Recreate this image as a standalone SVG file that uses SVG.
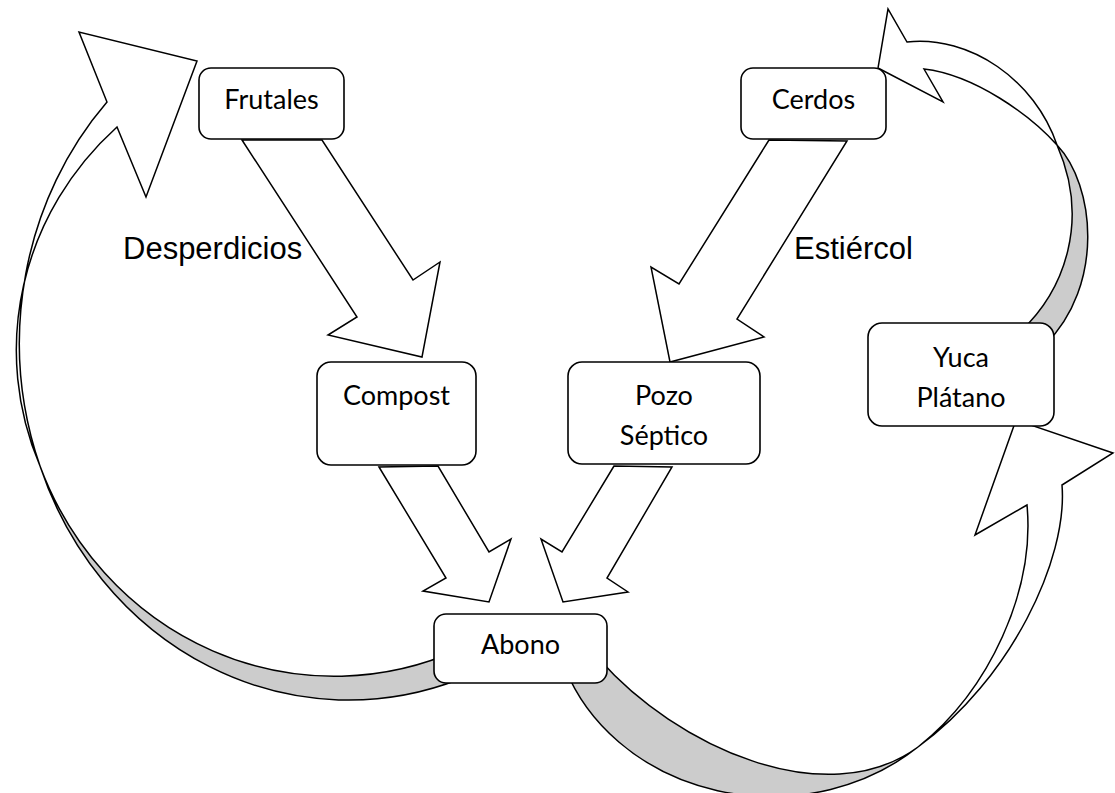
<svg xmlns="http://www.w3.org/2000/svg" width="1115" height="793" viewBox="0 0 1115 793">
<style>
.node rect { fill:#ffffff; stroke:#000000; stroke-width:1.6; }
.node text { font-family: Lato, "Open Sans", sans-serif; font-size:27px; text-anchor:middle; fill:#000000; }
.arrow { fill:#ffffff; stroke:#000000; stroke-width:1.5; stroke-linejoin:miter; }
.back { fill:#cccccc; stroke:#000000; stroke-width:1.5; }
.label { font-family:"Liberation Sans", Arial, sans-serif; font-size:31px; fill:#000000; }
</style>
<rect x="0" y="0" width="1115" height="793" fill="#ffffff"/>
<g id="connectors">
  <path class="back" d="M 40,466 A 315.5 329 0 0 0 460,649 L 460,679 A 328 354 0 0 1 40,466 Z"/>
  <path class="arrow" d="M 117,127 L 146,197 L 197,61 L 79,32 L 107,102 A 328 354 0 0 0 40,466 A 321 307 0 0 1 117,127 Z"/>
  <path class="back" d="M 600,660 C 675,745 825,815 918,747 A 219 193 0 0 1 565,668 Z"/>
  <path class="arrow" d="M 1027,505 L 975,535 L 1016,420 L 1113,453 L 1062,485 C 1068,560 1010,680 918,747 C 990,690 1035,590 1027,505 Z"/>
  <path class="back" d="M 1020,332 C 1065,290 1090,220 1057,145 C 1095,185 1105,285 1045,345 Z"/>
  <path class="arrow" d="M 924,69 L 943,102 L 878,68 L 888,9 L 907,42 C 970,35 1035,80 1057,145 C 1030,115 975,75 924,69 Z"/>
  <polygon class="arrow" points="242,140 357,317 328,335 422,357 440,262 413,280 322,140"/>
  <polygon class="arrow" points="769,140 679,284 651,267 670,362 764,337 737,319 847,141"/>
  <polygon class="arrow" points="379,467 446,578 423,591 489,602 511,539 489,552 438,466"/>
  <polygon class="arrow" points="614,466 562,552 541,539 563,602 628,592 607,578 672,467"/>
</g>
<g id="labels">
  <text class="label" x="123" y="259">Desperdicios</text>
  <text class="label" x="794" y="259">Estiércol</text>
</g>
<g id="frutales" class="node"><rect x="199" y="68" width="145" height="71" rx="12"/><text x="271.5" y="109">Frutales</text></g>
<g id="cerdos" class="node"><rect x="741" y="68" width="145" height="71" rx="12"/><text x="813.5" y="109">Cerdos</text></g>
<g id="compost" class="node"><rect x="317" y="362" width="159" height="103" rx="14"/><text x="396.5" y="405">Compost</text></g>
<g id="pozo" class="node"><rect x="568" y="362" width="192" height="102" rx="14"/><text x="664" y="405">Pozo</text><text x="664" y="445">Séptico</text></g>
<g id="yuca" class="node"><rect x="868" y="323" width="186" height="103" rx="14"/><text x="961" y="367">Yuca</text><text x="961" y="407">Plátano</text></g>
<g id="abono" class="node"><rect x="434" y="614" width="173" height="69" rx="12"/><text x="520.5" y="654">Abono</text></g>
</svg>
